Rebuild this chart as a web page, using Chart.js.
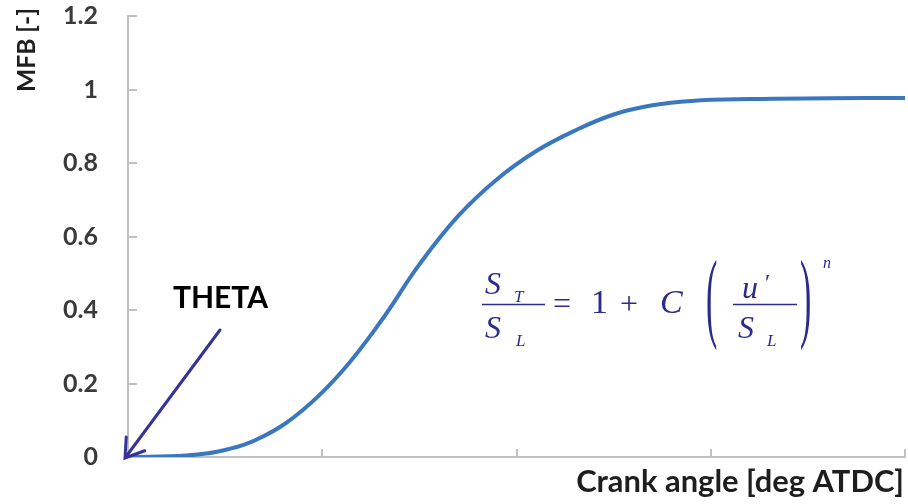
<!DOCTYPE html>
<html>
<head>
<meta charset="utf-8">
<script src="https://cdn.jsdelivr.net/npm/chart.js@4"></script>
<style>
  html, body { margin: 0; padding: 0; background: #fff; }
  #wrap { width: 908px; height: 504px; }
</style>
</head>
<body>
<div id="wrap"><canvas id="mfbChart" width="908" height="504"></canvas></div>
<script>
// mass fraction burned vs crank angle
const crankAngle = [0, 3, 5, 7, 9, 11, 13, 15, 17, 19, 21, 23, 25, 27, 29, 32, 36, 40];
const mfb = [0, 0.004, 0.019, 0.057, 0.128, 0.232, 0.368, 0.524, 0.656, 0.756, 0.832, 0.888, 0.932, 0.957, 0.969, 0.974, 0.976, 0.977];
const yTickLabels = ['0', '0.2', '0.4', '0.6', '0.8', '1', '1.2'];
const xTitle = 'Crank angle [deg ATDC]';
const yTitle = 'MFB [-]';
const pointerLabel = 'THETA';

const AXIS_GREY = '#c0c0c0';
const NAVY = '#2b2b8c';

// bold label squeezed/stretched to a given width
function fitFont(ctx, text, width, base) {
  ctx.font = 'bold ' + base + 'px Lato';
  const w = ctx.measureText(text).width;
  return 'bold ' + (base * width / w).toFixed(1) + 'px Lato';
}

function serif(ctx, txt, x, y, size, italic) {
  ctx.font = (italic ? 'italic ' : '') + size + 'px "Liberation Serif"';
  ctx.fillText(txt, x, y);
}

function bigParen(ctx, ch, x, top, bottom) {
  ctx.save();
  ctx.font = '34px "Liberation Serif"';
  ctx.textBaseline = 'middle';
  const sy = (bottom - top) / 30;
  ctx.translate(x, (top + bottom) / 2);
  ctx.scale(1, sy);
  ctx.fillText(ch, 0, 0);
  ctx.restore();
}

function drawFormula(ctx) {
  ctx.save();
  ctx.fillStyle = NAVY;
  ctx.strokeStyle = NAVY;
  ctx.textAlign = 'left';
  ctx.textBaseline = 'alphabetic';
  ctx.lineWidth = 1.4;

  // S_T / S_L
  serif(ctx, 'S', 485, 294, 32, true);
  serif(ctx, 'T', 514, 302, 17, true);
  ctx.beginPath(); ctx.moveTo(482, 304.5); ctx.lineTo(545, 304.5); ctx.stroke();
  serif(ctx, 'S', 485, 338, 32, true);
  serif(ctx, 'L', 516, 346, 17, true);

  serif(ctx, '=', 553, 314, 32, false);
  serif(ctx, '1', 591, 313, 34, false);
  serif(ctx, '+', 620, 314, 32, false);
  serif(ctx, 'C', 660, 313, 34, true);

  bigParen(ctx, '(', 706, 260, 347);
  serif(ctx, 'u', 742, 298, 32, true);
  serif(ctx, '\u2032', 765, 290, 24, false);
  ctx.beginPath(); ctx.moveTo(733, 304.5); ctx.lineTo(797, 304.5); ctx.stroke();
  serif(ctx, 'S', 738, 338, 32, true);
  serif(ctx, 'L', 767, 346, 17, true);
  bigParen(ctx, ')', 800, 260, 347);
  serif(ctx, 'n', 823, 268, 16, true);
  ctx.restore();
}

const decorations = {
  id: 'decorations',
  afterDatasetsDraw(chart) {
    const ctx = chart.ctx;
    const xs = chart.scales.x, ys = chart.scales.y;

    // pointer to the start of combustion
    const tipX = xs.getPixelForValue(crankAngle[0]) - 3;
    const tipY = ys.getPixelForValue(mfb[0]) + 1;
    const fromX = 220, fromY = 330;
    ctx.save();
    ctx.strokeStyle = '#33339a';
    ctx.lineWidth = 3;
    ctx.lineCap = 'round';
    ctx.beginPath();
    ctx.moveTo(fromX, fromY);
    ctx.lineTo(tipX, tipY);
    const ang = Math.atan2(fromY - tipY, fromX - tipX);
    const head = 21, spread = 0.58;
    ctx.moveTo(tipX + head * Math.cos(ang - spread), tipY + head * Math.sin(ang - spread));
    ctx.lineTo(tipX, tipY);
    ctx.lineTo(tipX + head * Math.cos(ang + spread), tipY + head * Math.sin(ang + spread));
    ctx.stroke();
    ctx.restore();

    ctx.save();
    ctx.fillStyle = '#000';
    ctx.textAlign = 'left';
    ctx.textBaseline = 'alphabetic';
    ctx.font = fitFont(ctx, pointerLabel, 95, 27);
    ctx.fillText(pointerLabel, 173, 308);

    // axis titles
    ctx.fillStyle = '#1e1e1e';
    ctx.textAlign = 'right';
    ctx.font = fitFont(ctx, xTitle, 328, 26);
    ctx.fillText(xTitle, 904, 492);

    ctx.translate(35, 92);
    ctx.rotate(-Math.PI / 2);
    ctx.textAlign = 'left';
    ctx.font = fitFont(ctx, yTitle, 84, 26);
    ctx.fillText(yTitle, 0, 0);
    ctx.restore();

    drawFormula(ctx);
  }
};

new Chart(document.getElementById('mfbChart'), {
  type: 'line',
  data: {
    datasets: [{
      data: crankAngle.map((a, i) => ({ x: a, y: mfb[i] })),
      borderColor: '#3b77bf',
      borderWidth: 4,
      pointRadius: 0,
      fill: false,
      tension: 0.4
    }]
  },
  options: {
    responsive: false,
    animation: false,
    layout: { padding: { top: 16, right: 3, left: 0, bottom: 0 } },
    plugins: { legend: { display: false }, tooltip: { enabled: false } },
    scales: {
      x: {
        type: 'linear',
        min: 0, max: 40,
        ticks: { stepSize: 10, display: false },
        grid: { drawOnChartArea: false, color: AXIS_GREY, lineWidth: 2, tickLength: -8 },
        border: { color: AXIS_GREY, width: 2 },
        afterFit: s => { s.height = 47; s.paddingLeft = 0; s.paddingRight = 0; }
      },
      y: {
        min: 0, max: 1.2,
        ticks: {
          stepSize: 0.2,
          padding: 39,
          color: '#3a3a3a',
          font: { family: 'Lato', weight: 'bold', size: 25 },
          callback: (v, i) => yTickLabels[i]
        },
        grid: { drawOnChartArea: false, color: AXIS_GREY, lineWidth: 2, tickLength: -9 },
        border: { color: AXIS_GREY, width: 2 },
        // labels sit well left of the inward ticks, so no extra head/foot room is needed
        afterFit: s => { s.width = 128; s.paddingTop = 0; s.paddingBottom = 0; }
      }
    }
  },
  plugins: [decorations]
});
</script>
</body>
</html>
